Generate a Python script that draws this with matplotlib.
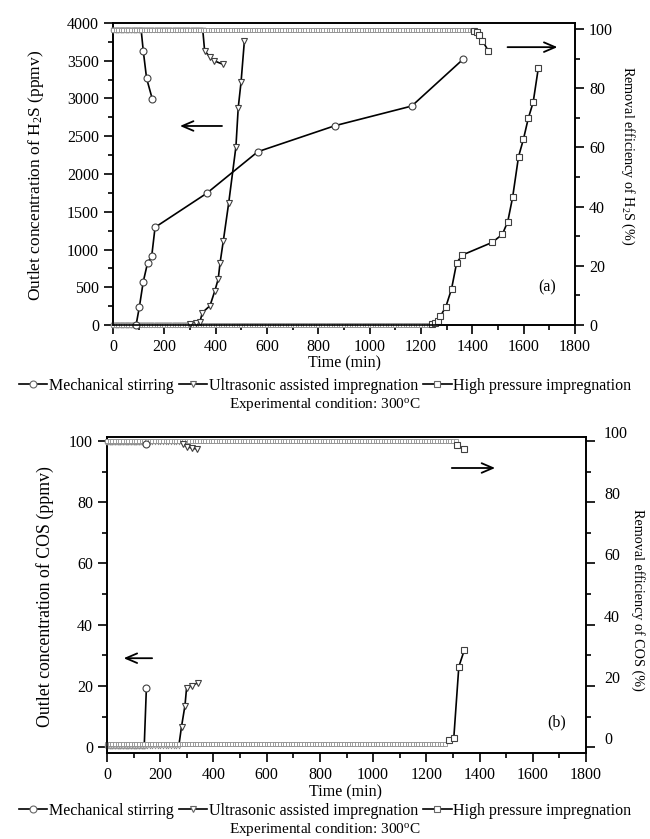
import numpy as np
import matplotlib
matplotlib.use("Agg")
import matplotlib.pyplot as plt
import matplotlib.transforms as mtransforms
from matplotlib.lines import Line2D
from matplotlib.ticker import MultipleLocator

plt.rcParams["font.family"] = "Liberation Serif"
plt.rcParams["font.size"] = 11.5
plt.rcParams["mathtext.fontset"] = "custom"
plt.rcParams["mathtext.rm"] = "Liberation Serif"
plt.rcParams["mathtext.it"] = "Liberation Serif:italic"
plt.rcParams["mathtext.default"] = "regular"

# sampling interval during the flat (pre-breakthrough) part of each run
step = 10

# ---- panel (a): H2S ----
# outlet concentration (ppmv), left axis
a_ms_conc_t = [90, 103, 118, 135, 151, 164, 365, 564, 865, 1164, 1365]
a_ms_conc = [0, 242, 574, 825, 914, 1294, 1744, 2295, 2640, 2900, 3523]
a_us_conc_t = [300, 322, 339, 348, 378, 397, 410, 417, 430, 451, 479, 488, 499, 512]
a_us_conc = [13, 31, 44, 163, 256, 454, 609, 817, 1117, 1620, 2361, 2878, 3218, 3762]
a_hp_conc_t = [1241, 1254, 1267, 1276, 1297, 1319, 1339, 1361, 1478, 1517, 1538,
               1557, 1580, 1599, 1618, 1637, 1657]
a_hp_conc = [13, 31, 58, 119, 243, 477, 825, 927, 1095, 1201, 1369, 1691, 2229,
             2459, 2737, 2949, 3400]
# removal efficiency (%), right axis
a_ms_eff_t = [118, 131, 153]
a_ms_eff = [92.6, 83.3, 76.4]
a_us_eff_t = [357, 378, 395, 427]
a_us_eff = [92.7, 90.4, 89.2, 88.1]
a_hp_eff_t = [1408, 1417, 1427, 1439, 1462]
a_hp_eff = [99.3, 98.8, 98.0, 96.0, 92.7]

# ---- panel (b): COS ----
b_ms_conc_t = [148]
b_ms_conc = [19.3]
b_us_conc_t = [280, 293, 299, 318, 343]
b_us_conc = [6.7, 13.6, 19.3, 20.1, 21.1]
b_hp_conc_t = [1284, 1303, 1322, 1343]
b_hp_conc = [2.2, 2.9, 26.3, 31.8]
b_ms_eff_t = [148]
b_ms_eff = [99.1]
b_us_eff_t = [284, 299, 318, 339]
b_us_eff = [99.1, 98.2, 97.7, 97.4]
b_hp_eff_t = [1316, 1341]
b_hp_eff = [98.6, 97.5]

labels = ["Mechanical stirring", "Ultrasonic assisted impregnation",
          "High pressure impregnation"]


def draw(ax, flat_val, t, v, marker):
    tf = np.arange(0, t[0] - 5, step)
    yf = np.full(len(tf), flat_val)
    ax.plot(np.r_[tf, t], np.r_[yf, v], color="k", lw=1.2, zorder=2)
    ax.plot(tf, yf, ls="none", marker=marker, ms=3.5, mfc="white", mec="0.55",
            mew=0.6, clip_on=False, zorder=3)
    ax.plot(t, v, ls="none", marker=marker, ms=5, mfc="white", mec="0.25",
            mew=0.8, clip_on=False, zorder=4)


def style(ax, ymaj, ymin):
    ax.xaxis.set_major_locator(MultipleLocator(200))
    ax.xaxis.set_minor_locator(MultipleLocator(100))
    ax.yaxis.set_major_locator(MultipleLocator(ymaj))
    ax.yaxis.set_minor_locator(MultipleLocator(ymin))
    ax.tick_params(which="major", direction="out", length=6.5, width=1.2)
    ax.tick_params(which="minor", direction="out", length=3.5, width=1.2)
    for s in ax.spines.values():
        s.set_linewidth(1.2)


arrow = dict(arrowstyle="->,head_length=0.7,head_width=0.3", lw=1.3, color="k")

fig = plt.figure(figsize=(6.5, 8.39), dpi=100)

# ---------- top panel ----------
ax = fig.add_axes([0.1738, 0.6126, 0.7108, 0.36])
ax2 = ax.twinx()
draw(ax, 0, a_ms_conc_t, a_ms_conc, "o")
draw(ax, 0, a_us_conc_t, a_us_conc, "v")
draw(ax, 0, a_hp_conc_t, a_hp_conc, "s")
draw(ax2, 99.5, a_ms_eff_t, a_ms_eff, "o")
draw(ax2, 99.5, a_us_eff_t, a_us_eff, "v")
draw(ax2, 99.5, a_hp_eff_t, a_hp_eff, "s")
ax.set_xlim(0, 1800)
ax.set_ylim(0, 4000)
ax2.set_ylim(0, 102)
style(ax, 500, 250)
style(ax2, 20, 10)
ax.annotate("", xy=(0.139, 0.659), xytext=(0.242, 0.659), xycoords="axes fraction",
            arrowprops=arrow)
ax.annotate("", xy=(0.968, 0.92), xytext=(0.848, 0.92), xycoords="axes fraction",
            arrowprops=arrow)
ax.text(0.939, 0.123, "(a)", transform=ax.transAxes, ha="center", va="center")

fig.text(36 / 650, 1 - 175 / 839, "Outlet concentration of H$_2$S (ppmv)",
         rotation=90, ha="center", va="center", fontsize=12.5)
fig.text(628 / 650, 1 - 156 / 839, "Removal efficiency of H$_2$S (%)",
         rotation=270, ha="center", va="center", fontsize=10.2)
fig.text(344 / 650, 1 - 363 / 839, "Time (min)", ha="center", va="center", fontsize=11.5)

# ---------- bottom panel ----------
bx = fig.add_axes([0.1646, 0.1025, 0.737, 0.3766])
bx2 = bx.twinx()
draw(bx, 0.5, b_ms_conc_t, b_ms_conc, "o")
draw(bx, 0.5, b_us_conc_t, b_us_conc, "v")
draw(bx, 1.0, b_hp_conc_t, b_hp_conc, "s")
draw(bx2, 99.8, b_ms_eff_t, b_ms_eff, "o")
draw(bx2, 99.8, b_us_eff_t, b_us_eff, "v")
draw(bx2, 99.9, b_hp_eff_t, b_hp_eff, "s")
bx.set_xlim(0, 1800)
bx.set_ylim(-1.9, 101.3)
bx2.set_ylim(-1.9, 101.3)
style(bx, 20, 10)
style(bx2, 20, 10)
shift = mtransforms.ScaledTranslation(0.04, 0.09, fig.dpi_scale_trans)
for lab in bx2.get_yticklabels():
    lab.set_transform(lab.get_transform() + shift)
bx.annotate("", xy=(0.816, 0.902), xytext=(0.714, 0.902), xycoords="axes fraction",
            arrowprops=arrow)
bx.annotate("", xy=(0.029, 0.30), xytext=(0.100, 0.30), xycoords="axes fraction",
            arrowprops=arrow)
bx.text(0.939, 0.098, "(b)", transform=bx.transAxes, ha="center", va="center")

fig.text(45 / 650, 1 - 597 / 839, "Outlet concentration of COS (ppmv)",
         rotation=90, ha="center", va="center", fontsize=12.8)
fig.text(638 / 650, 1 - 600 / 839, "Removal efficiency of COS (%)",
         rotation=270, ha="center", va="center", fontsize=10.2)
fig.text(346 / 650, 1 - 792 / 839, "Time (min)", ha="center", va="center", fontsize=11.5)

# ---------- legends and captions ----------
handles = [Line2D([], [], color="k", lw=1.2, marker=m, ms=5, mfc="white",
                  mec="0.4", mew=0.8) for m in ["o", "v", "s"]]
for yl in [1 - 386 / 839, 1 - 811 / 839]:
    fig.legend(handles, labels, loc="center", bbox_to_anchor=(0.5, yl), ncol=3,
               frameon=False, handlelength=1.8, handletextpad=0.1,
               columnspacing=0.3, borderaxespad=0, borderpad=0, fontsize=11.5)
fig.text(0.5, 1 - 405 / 839, "Experimental condition: 300$^{o}$C", ha="center",
         va="center", fontsize=11)
fig.text(0.5, 1 - 830 / 839, "Experimental condition: 300$^{o}$C", ha="center",
         va="center", fontsize=11)

fig.savefig("out.png", dpi=100)
